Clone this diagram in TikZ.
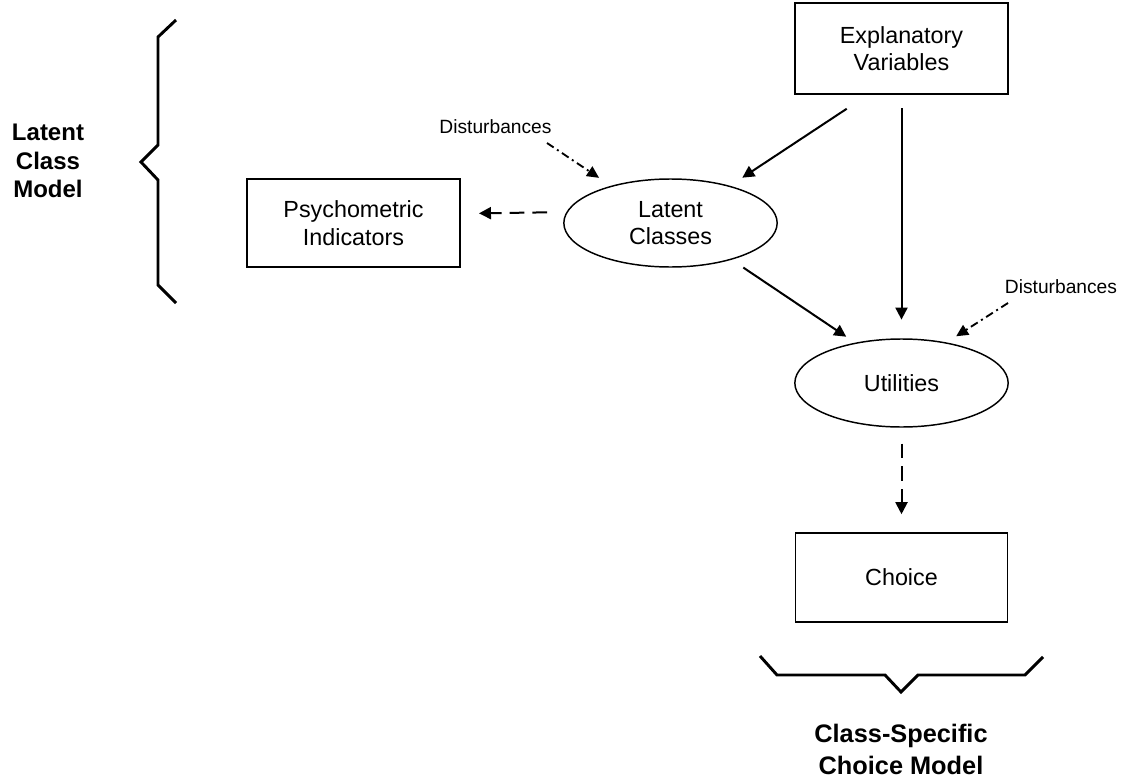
\documentclass[tikz,border=0pt]{standalone}
\usepackage{fontspec}
\setmainfont{Liberation Sans}
\usetikzlibrary{arrows.meta,shapes.geometric}

\tikzset{every picture/.style={line width=0.75pt}}
\tikzset{
  varbox/.style={draw, rectangle, line width=1.2pt, inner sep=0pt, align=center, font=\fontsize{17.5}{20.5}\selectfont},
  latentoval/.style={draw, ellipse, line width=1.1pt, inner sep=0pt, minimum width=160pt, minimum height=66pt, align=center, font=\fontsize{17.5}{20.5}\selectfont},
  solidarr/.style={line width=1.5pt, -{Triangle[length=9pt,width=9pt]}},
  dasharr/.style={solidarr, dash pattern=on 11pt off 6pt},
  noisearr/.style={line width=1.4pt, -{Triangle[length=9pt,width=8.5pt]}, dash pattern=on 6pt off 3pt on 1.5pt off 3pt},
  bracket/.style={line width=2.2pt, line join=miter},
  modellabel/.style={align=center, font=\fontsize{18}{21.4}\selectfont\bfseries},
  noiselabel/.style={inner sep=0.75pt, font=\fontsize{14.4}{17}\selectfont}
}

\begin{document}
\begin{tikzpicture}[x=0.75pt,y=0.75pt,yscale=-1,xscale=1]
\useasboundingbox (0,0) rectangle (1125,778);

%Shape: Rectangle [explanatory]
\node [varbox, minimum width=160pt, minimum height=68.25pt] (expl) at (901.5,48.5) {Explanatory\\Variables};
%Shape: Rectangle [psychometric]
\node [varbox, minimum width=160pt, minimum height=66pt] (psych) at (353.5,223) {Psychometric\\Indicators};
%Shape: Rectangle [choice]
\node [varbox, minimum width=159pt, minimum height=66.75pt] (choice) at (901.5,577.5) {Choice};
%Shape: Ellipse [latent classes]
\node [latentoval] (latent) at (670.5,223) {Latent\\Classes};
%Shape: Ellipse [utilities]
\node [latentoval] (util) at (901.5,383) {Utilities};

% Text Node
\node [noiselabel] (noiseA) at (495.5,127) {Disturbances};
% Text Node
\node [noiselabel] (noiseB) at (1061,287) {Disturbances};
\coordinate (noiseAend) at (547,143);
\coordinate (noiseBend) at (1008,303);

%Straight Lines
\draw [solidarr, shorten <=19pt, shorten >=11pt] (expl.234.5) -- (latent.32);
\draw [solidarr, shorten <=10pt, shorten >=14pt] (expl.south) -- (util.north);
\draw [solidarr, shorten <=10.5pt, shorten >=8pt] (latent.-31.5) -- (util.139);
\draw [dasharr, shorten <=14.5pt, shorten >=13.5pt] (latent.174.5) -- (psych.5.4);
\draw [dasharr, shorten <=12pt, shorten >=13.5pt] (util.south) -- (choice.north);
\draw [noisearr, shorten >=10.7pt] (noiseAend) -- (latent.148);
\draw [noisearr, shorten >=8.5pt] (noiseBend) -- (util.42.5);

%Brace Lines
\draw [bracket] (176,20) -- (158,37) -- (158,145) -- (141,162) -- (158,180) -- (158,285) -- (176,303);
\draw [bracket] (760,656) -- (777,675) -- (885,675) -- (901,692) -- (918,675) -- (1025,675) -- (1043,657);

% Text Node
\node [modellabel] (lcmlabel) at (48,161) {Latent\\Class\\Model};
% Text Node
\node [modellabel, font=\fontsize{19}{24}\selectfont\bfseries] (cscmlabel) at (901,749) {Class-Specific\\Choice Model};

\end{tikzpicture}
\end{document}
